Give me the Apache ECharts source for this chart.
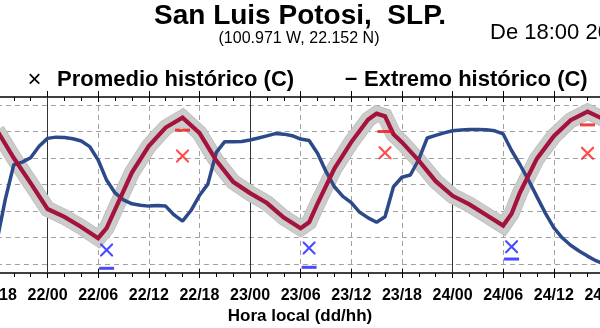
<!DOCTYPE html>
<html><head><meta charset="utf-8">
<script src="https://cdn.jsdelivr.net/npm/echarts@6/dist/echarts.min.js"></script>
<style>html,body{margin:0;padding:0;background:#fff}#c{width:600px;height:328px}</style>
</head><body><div id="c"></div>
<script>
// hours counted from 21/00 (22/00 = 24)
const tempHours = [18,20,22,24,26,28,30,31,32,34,36,38,40,42,44,46,48,50,52,54,55,56,58,60,62,63,64,65,66,68,70,72,74,76,78,79,80,82,84,86,88,90];
const tempValues = [24.2,20.0,16.2,12.3,11.1,9.6,7.9,9.4,12.2,17.8,21.8,24.6,26.1,23.8,19.6,16.4,14.7,13.2,11.0,9.4,10.3,13.1,18.4,22.4,25.8,26.7,26.3,23.6,22.4,19.6,16.5,14.3,13.0,11.4,9.8,11.6,14.8,19.9,23.3,25.7,27.0,25.8];
const humHours = [18,19,20,21,22,23,24,25,26,27,28,29,30,31,32,33,34,35,36,37,38,39,40,41,42,43,44,45,46,47,48,49,50,51,52,53,54,55,56,57,58,59,60,61,62,63,64,65,66,67,68,69,70,71,72,73,74,75,76,77,78,79,80,81,82,83,84,85,86,87,88,89,90];
const humValues = [18,42,61.5,63,65.5,72,76.5,77.2,77,76.3,75,71.8,64.2,52.8,45.5,41.5,39.3,38.5,38.0,38.3,38,33,29.5,35.5,44,50.5,68.5,74.6,74.6,74.7,75.6,76.7,77.9,79.2,78.9,78,76.1,75.3,68,57.7,49,43.5,40,34.5,31.3,28.8,32.0,49.0,54.4,55.7,64.5,76.7,78.2,79.6,80.8,81.2,81.5,81.6,81.4,80.8,79,69.6,61.5,52.8,43.4,34,25.8,20,15.8,12.5,9.6,7,5];
const avgMaxHours = [40,64,88];
const avgMaxValues = [20.3,20.8,20.7];
const extMaxHours = [40,64,88];
const extMaxValues = [24.2,24.0,25.0];
const avgMinHours = [31,55,79];
const avgMinValues = [6.1,6.4,6.6];
const extMinHours = [31,55,79];
const extMinValues = [3.35,3.5,4.75];
const tickHours = [18,24,30,36,42,48,54,60,66,72,78,84,90];
const tickLabels = ['21/18','22/00','22/06','22/12','22/18','23/00','23/06','23/12','23/18','24/00','24/06','24/12','24/18'];
const dayHours = [24,48,72];
const gridTemps = [4,8,12,16,20,24,28];

const FONT = 'Liberation Sans, Arial, sans-serif';
const pairs = (xs, ys) => xs.map((x, i) => [x, ys[i]]);
const crossPath = 'path://M0,0L1.4,0L6,4.6L10.6,0L12,0L12,1.4L7.4,6L12,10.6L12,12L10.6,12L6,7.4L1.4,12L0,12L0,10.6L4.6,6L0,1.4Z';

function xAxisCfg(pos, opts) {
  return Object.assign({
    type: 'value', position: pos, min: 18, max: 90, interval: 6,
    axisLine: {show: false, onZero: false},
    axisTick: {show: true, inside: true, length: 5, lineStyle: {color: '#000', width: 1}},
    minorTick: {show: false},
    axisLabel: {show: false},
    splitLine: {show: false}
  }, opts);
}

const chart = echarts.init(document.getElementById('c'), null, {renderer: 'canvas'});
chart.setOption({
  animation: false,
  backgroundColor: '#fff',
  grid: {left: -3.1, right: -4.4, top: 97, bottom: 55, containLabel: false, outerBoundsMode: 'none'},
  xAxis: [
    xAxisCfg('bottom', {
      axisLine: {show: true, onZero: false, lineStyle: {color: '#000', width: 1.6}},
      axisTick: {show: true, inside: false, length: 5, lineStyle: {color: '#000', width: 1}},
      minorTick: {show: true, splitNumber: 3, length: 4, lineStyle: {color: '#000', width: 1}},
      axisLabel: {show: true, margin: 15, color: '#000', fontSize: 16, fontWeight: 'bold', fontFamily: FONT,
        showMinLabel: true, showMaxLabel: true,
        formatter: v => { const i = tickHours.indexOf(v); return i >= 0 ? tickLabels[i] : ''; }},
      splitLine: {show: true, lineStyle: {color: '#a0a0a0', width: 1, type: [5, 4]}}
    }),
    xAxisCfg('bottom', {axisTick: {show: true, inside: true, length: 4, lineStyle: {color: '#000', width: 1}}}),
    xAxisCfg('top', {
      axisLine: {show: true, onZero: false, lineStyle: {color: '#000', width: 1.6}},
      axisTick: {show: true, inside: true, length: 5, lineStyle: {color: '#000', width: 1}},
      minorTick: {show: true, splitNumber: 3, length: 4, lineStyle: {color: '#000', width: 1}}
    }),
    xAxisCfg('top', {axisTick: {show: true, inside: false, length: 6, lineStyle: {color: '#000', width: 1}}})
  ],
  yAxis: [
    {type: 'value', min: 2.642, max: 29.21, show: false},
    {type: 'value', min: 0, max: 100, show: false}
  ],
  graphic: [
    {type: 'text', x: 300, y: 16, style: {text: 'San Luis Potosi,  SLP.', fill: '#000', font: 'bold 28px ' + FONT, textAlign: 'center', textVerticalAlign: 'middle'}},
    {type: 'text', x: 299, y: 39, style: {text: '(100.971 W, 22.152 N)', fill: '#000', font: '16px ' + FONT, textAlign: 'center', textVerticalAlign: 'middle'}},
    {type: 'text', x: 490, y: 33, style: {text: 'De 18:00 20', fill: '#000', font: '22px ' + FONT, textAlign: 'left', textVerticalAlign: 'middle'}},
    {type: 'text', x: 34.5, y: 80, style: {text: '\u00d7', fill: '#000', font: '24px ' + FONT, textAlign: 'center', textVerticalAlign: 'middle'}},
    {type: 'text', x: 57, y: 80, style: {text: 'Promedio histórico (C)', fill: '#000', font: 'bold 22px ' + FONT, textAlign: 'left', textVerticalAlign: 'middle'}},
    {type: 'text', x: 351, y: 79, style: {text: '\u2013', fill: '#000', font: 'bold 22px ' + FONT, textAlign: 'center', textVerticalAlign: 'middle'}},
    {type: 'text', x: 364, y: 80, style: {text: 'Extremo histórico (C)', fill: '#000', font: 'bold 22px ' + FONT, textAlign: 'left', textVerticalAlign: 'middle'}},
    {type: 'text', x: 300, y: 316, style: {text: 'Hora local (dd/hh)', fill: '#000', font: 'bold 17px ' + FONT, textAlign: 'center', textVerticalAlign: 'middle'}}
  ],
  series: [
    {
      type: 'line', xAxisIndex: 0, yAxisIndex: 0, z: 2, silent: true,
      data: pairs(tempHours, tempValues), symbol: 'none',
      lineStyle: {color: '#bcbcbc', width: 16, join: 'miter', cap: 'butt'},
      markLine: {
        silent: true, z: 1, symbol: ['none', 'none'], label: {show: false},
        lineStyle: {color: '#a0a0a0', width: 1, type: [5, 4]},
        data: gridTemps.map(v => ({yAxis: v}))
      }
    },
    {
      type: 'line', xAxisIndex: 0, yAxisIndex: 0, z: 2, silent: true,
      data: pairs(tempHours, tempValues), symbol: 'none',
      lineStyle: {color: '#cccccc', width: 14.5, join: 'miter', cap: 'butt'},
      markLine: {
        silent: true, z: 1, symbol: ['none', 'none'], label: {show: false},
        lineStyle: {color: '#333', width: 1, type: 'solid'},
        data: dayHours.map(h => ({xAxis: h}))
      }
    },
    {
      type: 'line', xAxisIndex: 0, yAxisIndex: 1, z: 3, silent: true,
      data: pairs(humHours, humValues), symbol: 'none',
      lineStyle: {color: '#2c4a8a', width: 3.5}
    },
    {
      type: 'line', xAxisIndex: 0, yAxisIndex: 0, z: 4, silent: true,
      data: pairs(tempHours, tempValues), symbol: 'none',
      lineStyle: {color: '#a3133c', width: 4.2, join: 'miter'}
    },
    {type: 'scatter', z: 5, silent: true, data: pairs(avgMaxHours, avgMaxValues), symbol: crossPath, symbolSize: 13, itemStyle: {color: '#ff2020'}},
    {type: 'scatter', z: 5, silent: true, data: pairs(extMaxHours, extMaxValues), symbol: 'rect', symbolSize: [15, 3], itemStyle: {color: '#ee1111'}},
    {type: 'scatter', z: 5, silent: true, data: pairs(avgMinHours, avgMinValues), symbol: crossPath, symbolSize: 13, itemStyle: {color: '#1f1fff'}},
    {type: 'scatter', z: 5, silent: true, data: pairs(extMinHours, extMinValues), symbol: 'rect', symbolSize: [15, 3], itemStyle: {color: '#1a1aff'}}
  ]
});
</script></body></html>
